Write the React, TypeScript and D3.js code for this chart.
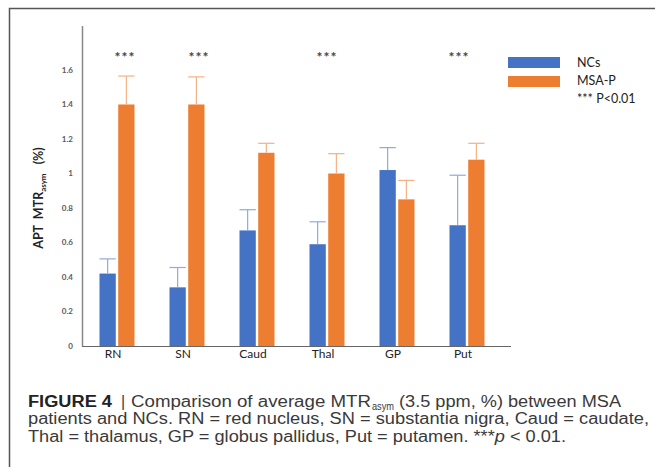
import React from "react";
import * as d3 from "d3";

// data
const regions = ["RN", "SN", "Caud", "Thal", "GP", "Put"];
const ncMean = [0.42, 0.34, 0.67, 0.59, 1.02, 0.70];
const ncErr = [0.085, 0.115, 0.12, 0.13, 0.13, 0.29];
const msaMean = [1.40, 1.40, 1.12, 1.00, 0.85, 1.08];
const msaErr = [0.165, 0.16, 0.055, 0.115, 0.11, 0.095];
const starred = ["RN", "SN", "Thal", "Put"];
const yTicks = [0, 0.2, 0.4, 0.6, 0.8, 1, 1.2, 1.4, 1.6];
const seriesNames = ["NCs", "MSA-P"];

const W = 655;
const H = 467;
const BLUE = "#4472c4";
const ORANGE = "#ed7d31";
const BLUE_ERR = "#8faadc";
const ORANGE_ERR = "#f4b183";
const chartFont = "Lato, 'Open Sans', sans-serif";
const capFont = "'Liberation Sans', Arial, sans-serif";

// small manual nudges for the *** marks, as in the original layout
const starNudge: Record<string, number> = { RN: 8, SN: 12, Thal: 0, Put: -8 };

const App = () => {
  const x = d3.scaleBand<string>().domain(regions).range([82, 502]).paddingInner(0.5).paddingOuter(0.25);
  const xs = d3.scaleBand<string>().domain(seriesNames).range([0, x.bandwidth()]).paddingInner(0.13);
  const y = d3.scaleLinear().domain([0, 1.855]).range([346, 26]);

  const series = [
    { name: "NCs", mean: ncMean, err: ncErr, fill: BLUE, errColor: BLUE_ERR },
    { name: "MSA-P", mean: msaMean, err: msaErr, fill: ORANGE, errColor: ORANGE_ERR },
  ];

  return (
    <svg width={W} height={H} style={{ position: "absolute", left: 0, top: 0, background: "#fff" }}>
      {/* frame */}
      <path d={`M9.5,${H} V8.5 H${W}`} fill="none" stroke="#555" strokeWidth={1.5} />

      {/* y axis */}
      <line x1={82.5} x2={82.5} y1={26} y2={y(0)} stroke="#888" strokeWidth={1.5} />
      {yTicks.map((t) => (
        <text key={t} x={73} y={y(t)} dy="0.35em" textAnchor="end" fontFamily={chartFont}
          fontSize={8} fontWeight={700} fill="#595959">{d3.format("~g")(t)}</text>
      ))}

      {/* bars + error bars */}
      {series.map((s) => (
        <g key={s.name}>
          {regions.map((r, i) => {
            const bx = (x(r) as number) + (xs(s.name) as number);
            const bw = xs.bandwidth();
            const top = y(s.mean[i]);
            const et = y(s.mean[i] + s.err[i]);
            return (
              <g key={r}>
                <rect x={bx} y={top} width={bw} height={y(0) - top} fill={s.fill} />
                <line x1={bx + bw / 2} x2={bx + bw / 2} y1={top} y2={et} stroke={s.errColor} strokeWidth={1.2} />
                <line x1={bx} x2={bx + bw} y1={et} y2={et} stroke={s.errColor} strokeWidth={1.2} />
              </g>
            );
          })}
        </g>
      ))}

      {/* x axis */}
      <line x1={82} x2={511} y1={y(0) + 0.5} y2={y(0) + 0.5} stroke="#666" strokeWidth={1} />
      {regions.map((r) => (
        <text key={r} x={(x(r) as number) + x.bandwidth() / 2 - 4} y={358} textAnchor="middle"
          fontFamily={chartFont} fontSize={12} fill="#222">{r}</text>
      ))}

      {/* significance stars */}
      {starred.map((r) => (
        <text key={r} x={(x(r) as number) + x.bandwidth() / 2 + starNudge[r]} y={62} textAnchor="middle"
          fontFamily={chartFont} fontSize={14} fontWeight={700} fill="#444" letterSpacing={1}>***</text>
      ))}

      {/* y title */}
      <text transform="translate(43,198) rotate(-90)" textAnchor="middle" fontFamily={chartFont}
        fontSize={12.5} fontWeight={700} fill="#222">
        {"APT\u00a0\u00a0MTR"}<tspan fontSize={8} dy={3}>asym</tspan><tspan dy={-3}>{"\u00a0\u00a0 (%)"}</tspan>
      </text>

      {/* legend */}
      {series.map((s, i) => (
        <g key={s.name}>
          <rect x={508} y={57 + i * 19} width={52} height={11} fill={s.fill} />
          <text x={577} y={62.5 + i * 18} dy="0.35em" fontFamily={chartFont} fontSize={12.5} fill="#222">{s.name}</text>
        </g>
      ))}
      <text x={577} y={99} dy="0.35em" fontFamily={chartFont} fontSize={12.5} fill="#222">*** P&lt;0.01</text>

      {/* caption */}
      <g fontFamily={capFont} fontSize={16} fill="#3a3a3a">
        <text x={28} y={406.5} fontWeight={700} fill="#222" textLength={84} lengthAdjust="spacingAndGlyphs">FIGURE 4</text>
        <text x={121} y={406.5}>|</text>
        <text x={131} y={406.5} textLength={240} lengthAdjust="spacingAndGlyphs">Comparison of average MTR</text>
        <text x={372} y={409.5} fontSize={11} textLength={22} lengthAdjust="spacingAndGlyphs">asym</text>
        <text x={399} y={406.5} textLength={222} lengthAdjust="spacingAndGlyphs">(3.5 ppm, %) between MSA</text>
        <text x={28} y={424} textLength={621} lengthAdjust="spacingAndGlyphs">
          patients and NCs. RN = red nucleus, SN = substantia nigra, Caud = caudate,
        </text>
        <text x={28} y={441.5} textLength={538} lengthAdjust="spacingAndGlyphs">
          Thal = thalamus, GP = globus pallidus, Put = putamen. ***<tspan fontStyle="italic">p</tspan> &lt; 0.01.
        </text>
      </g>
    </svg>
  );
};

export default App;
